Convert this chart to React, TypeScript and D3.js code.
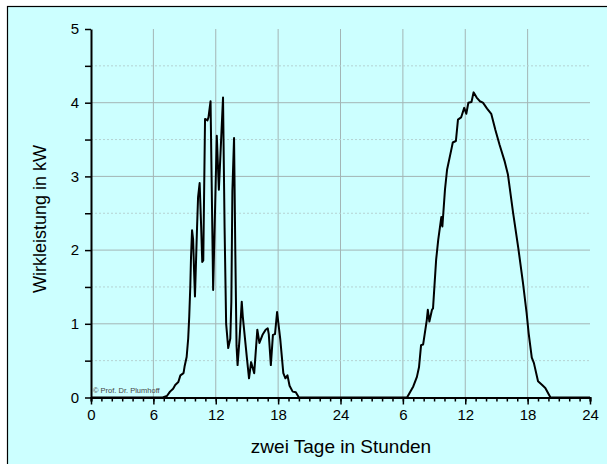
import { useCallback, useEffect, useRef } from "react";
import * as d3 from "d3";

// hours since midnight of day one, power in kW
const dayOneHours = [
  0, 6.9, 7.3, 7.6, 7.9, 8.1, 8.4, 8.6, 8.9, 9.0, 9.2, 9.35, 9.45, 9.55, 9.62,
  9.72, 9.82, 9.92, 10.0, 10.2, 10.3, 10.45, 10.6, 10.7, 10.8, 10.97, 11.2,
  11.3, 11.5, 11.75, 12.1, 12.3, 12.7, 12.85, 13.0, 13.2, 13.4, 13.5, 13.6,
  13.76, 13.88, 14.0, 14.1, 14.3, 14.5, 14.6, 15.0, 15.2, 15.4, 15.7, 16.0,
  16.2, 16.5, 16.8, 17.0, 17.1, 17.3, 17.5, 17.7, 17.9, 18.2, 18.5, 18.7, 18.9,
  19.1, 19.4, 19.7, 20.0, 24,
];
const dayOneKw = [
  0, 0, 0.02, 0.08, 0.12, 0.17, 0.21, 0.3, 0.33, 0.42, 0.55, 0.8, 1.1, 1.5, 1.9,
  2.27, 2.15, 1.7, 1.37, 2.3, 2.72, 2.91, 2.3, 1.84, 1.86, 3.78, 3.76, 3.8,
  4.02, 1.46, 3.55, 2.82, 4.07, 2.3, 1.0, 0.67, 0.8, 1.3, 2.8, 3.52, 2.0, 0.7,
  0.44, 0.82, 1.3, 1.1, 0.53, 0.26, 0.48, 0.33, 0.92, 0.74, 0.85, 0.92, 0.94,
  0.86, 0.44, 0.85, 0.86, 1.16, 0.8, 0.33, 0.26, 0.3, 0.16, 0.08, 0.07, 0, 0,
];

const dayTwoHours = [
  24, 30.4, 31.0, 31.35, 31.55, 31.75, 31.95, 32.3, 32.4, 32.55, 32.8, 32.9,
  33.2, 33.4, 33.7, 33.8, 34.05, 34.25, 34.7, 34.8, 35.1, 35.3, 35.6, 35.9,
  36.1, 36.3, 36.6, 36.8, 37.1, 37.4, 37.7, 38.1, 38.5, 38.9, 39.3, 39.8, 40.1,
  40.6, 41.1, 41.55, 41.9, 42.1, 42.4, 42.6, 43.0, 43.4, 43.7, 44.2, 48,
];
const dayTwoKw = [
  0, 0, 0.15, 0.28, 0.41, 0.71, 0.72, 1.05, 1.19, 1.03, 1.19, 1.21, 1.87, 2.14,
  2.45, 2.32, 2.82, 3.09, 3.39, 3.46, 3.48, 3.77, 3.8, 3.93, 3.85, 4.0, 4.01,
  4.14, 4.07, 4.02, 4.0, 3.92, 3.85, 3.63, 3.43, 3.2, 3.03, 2.51, 2.03, 1.56,
  1.15, 0.87, 0.54, 0.47, 0.22, 0.17, 0.13, 0, 0,
];

const xTicks = [0, 6, 12, 18, 24, 30, 36, 42, 48];
const yTicks = [0, 1, 2, 3, 4, 5];
const yHalfTicks = [0.5, 1.5, 2.5, 3.5, 4.5];

const width = 607;
const height = 464;

const App = () => {
  const svgRef = useRef(null);

  const renderGraph = useCallback((svgEl) => {
    const svg = d3.select(svgEl);
    svg.selectAll("*").remove();

    const x = d3.scaleLinear().domain([0, 48]).range([91, 590]);
    const y = d3.scaleLinear().domain([0, 5]).range([397.5, 29]);

    // frame: only top and left edges are visible
    svg
      .append("rect")
      .attr("x", 7.5)
      .attr("y", 6.5)
      .attr("width", width + 10)
      .attr("height", height + 10)
      .attr("fill", "#ccffff")
      .attr("stroke", "#000")
      .attr("stroke-width", 1.2);

    // grid
    const grid = svg.append("g");
    grid
      .selectAll("line.v")
      .data(xTicks.slice(1, -1))
      .join("line")
      .attr("x1", (d) => x(d))
      .attr("x2", (d) => x(d))
      .attr("y1", y(5))
      .attr("y2", y(0))
      .attr("stroke", "#a3b5b5")
      .attr("stroke-width", 1);
    grid
      .selectAll("line.h")
      .data(yTicks.slice(1, -1))
      .join("line")
      .attr("x1", x(0))
      .attr("x2", x(48))
      .attr("y1", (d) => y(d))
      .attr("y2", (d) => y(d))
      .attr("stroke", "#a3b5b5")
      .attr("stroke-width", 1);
    grid
      .selectAll("line.hh")
      .data(yHalfTicks)
      .join("line")
      .attr("x1", x(0))
      .attr("x2", x(48))
      .attr("y1", (d) => y(d))
      .attr("y2", (d) => y(d))
      .attr("stroke", "#b5d2d2")
      .attr("stroke-dasharray", "2,2")
      .attr("stroke-width", 1);

    // curve
    const line = d3
      .line()
      .x((d) => x(d[0]))
      .y((d) => y(d[1]));
    const series = [
      dayOneHours.map((h, i) => [h, dayOneKw[i]]),
      dayTwoHours.map((h, i) => [h, dayTwoKw[i]]),
    ];
    svg
      .append("path")
      .datum(series.flat())
      .attr("d", line)
      .attr("fill", "none")
      .attr("stroke", "#000")
      .attr("stroke-width", 2)
      .attr("stroke-linejoin", "round");

    const fontFamily = "'Liberation Sans', Arial, sans-serif";

    // y axis
    const yAxis = svg
      .append("g")
      .attr("transform", `translate(${x(0)},0)`)
      .call(
        d3
          .axisLeft(y)
          .tickValues(yTicks)
          .tickFormat(d3.format("d"))
          .tickSize(6)
          .tickPadding(6)
          .tickSizeOuter(0)
      );
    yAxis.select(".domain").attr("stroke-width", 2);
    yAxis.selectAll(".tick line").attr("stroke-width", 1.5);
    yAxis
      .selectAll("text")
      .attr("font-size", 15)
      .attr("font-family", fontFamily)
      .attr("fill", "#000");
    svg
      .append("g")
      .attr("transform", `translate(${x(0)},0)`)
      .call(d3.axisLeft(y).tickValues(yHalfTicks).tickSize(6).tickFormat(""))
      .call((g) => g.select(".domain").remove())
      .call((g) => g.selectAll(".tick line").attr("stroke-width", 1.5));

    // x axis
    const hours = d3.range(0, 49);
    const xAxis = svg
      .append("g")
      .attr("transform", `translate(0,${y(0)})`)
      .call(
        d3
          .axisBottom(x)
          .tickValues(hours)
          .tickSizeOuter(0)
          .tickSize(4)
          .tickFormat("")
      );
    xAxis.select(".domain").attr("stroke-width", 2);
    xAxis.selectAll(".tick line").attr("stroke-width", 1.5);
    const xMajor = svg
      .append("g")
      .attr("transform", `translate(0,${y(0)})`)
      .call(
        d3
          .axisBottom(x)
          .tickValues(xTicks)
          .tickSize(7)
          .tickPadding(5)
          .tickFormat((d) => (d === 0 ? "0" : d % 24 === 0 ? "24" : `${d % 24}`))
      );
    xMajor.select(".domain").remove();
    xMajor.selectAll(".tick line").attr("stroke-width", 1.5);
    xMajor
      .selectAll("text")
      .attr("font-size", 15)
      .attr("font-family", fontFamily)
      .attr("fill", "#000");

    // titles
    svg
      .append("text")
      .attr("x", 341)
      .attr("y", 453)
      .attr("text-anchor", "middle")
      .attr("font-size", 19)
      .attr("font-family", fontFamily)
      .text("zwei Tage in Stunden");
    svg
      .append("text")
      .attr("transform", "translate(46,219) rotate(-90)")
      .attr("text-anchor", "middle")
      .attr("font-size", 18)
      .attr("font-family", fontFamily)
      .text("Wirkleistung in kW");
    svg
      .append("text")
      .attr("x", 93)
      .attr("y", 393)
      .attr("font-size", 7.5)
      .attr("font-family", fontFamily)
      .attr("fill", "#444")
      .text("© Prof. Dr. Plumhoff");
  }, []);

  useEffect(() => {
    renderGraph(svgRef.current);
  }, [renderGraph]);

  return (
    <div style={{ position: "absolute", left: 0, top: 0, background: "#fff" }}>
      <svg ref={svgRef} width={width} height={height} style={{ display: "block" }} />
    </div>
  );
};

export default App;
